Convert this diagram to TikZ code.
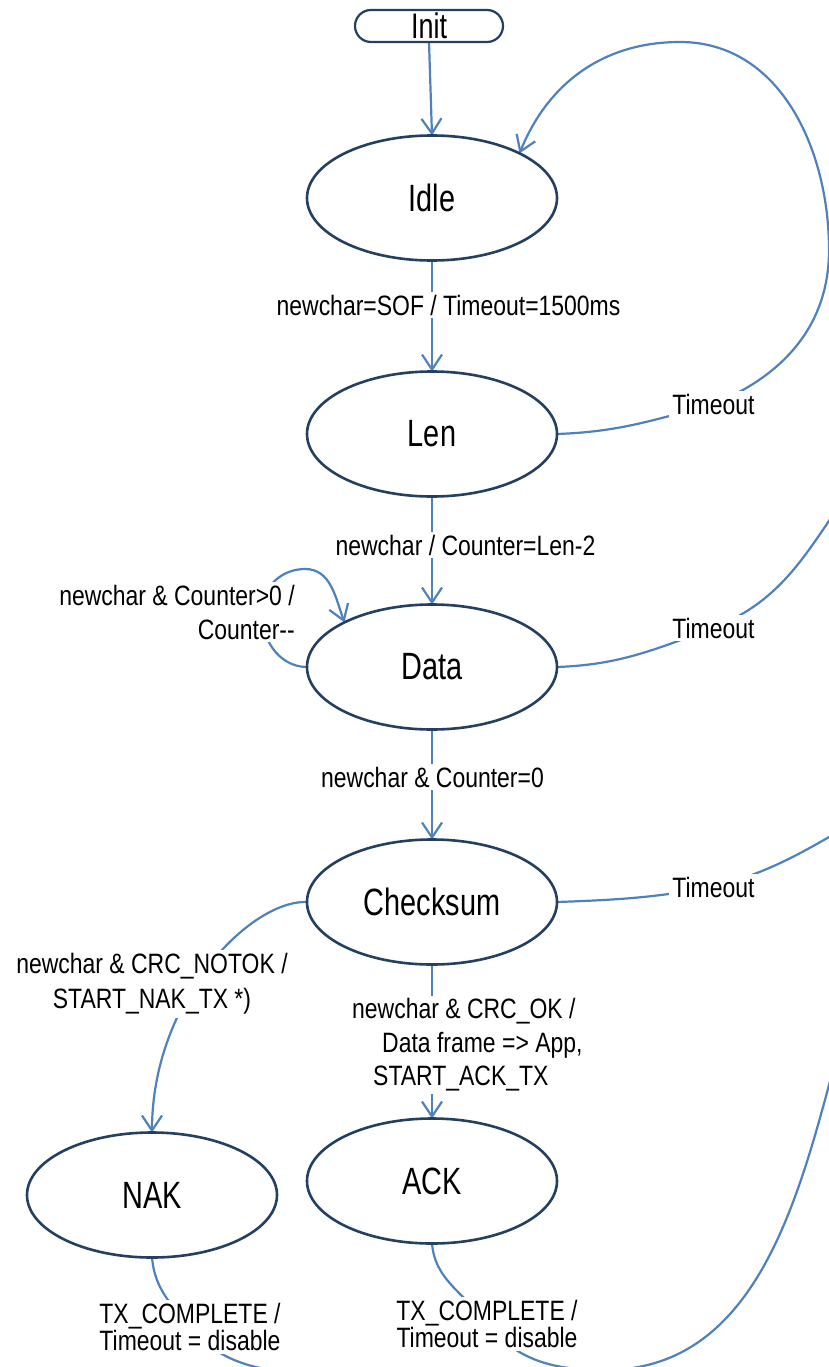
\documentclass[tikz,border=0pt]{standalone}
\usepackage{fontspec}
\usetikzlibrary{arrows.meta,shapes.geometric,shapes.misc,backgrounds}
\newfontfamily\statefont{Liberation Sans}[FakeStretch=0.76]
\newfontfamily\labelfont{Liberation Sans}[FakeStretch=0.82]
\definecolor{stateline}{RGB}{36,63,96}
\definecolor{edgeblue}{RGB}{79,129,189}
\tikzset{
  state/.style={ellipse, draw=stateline, line width=2.6pt, minimum width=250pt,
    minimum height=125pt, inner sep=0pt, outer sep=0pt,
    font=\statefont\fontsize{38}{44}\selectfont},
  initbox/.style={rounded rectangle, draw=stateline, line width=2.2pt,
    minimum width=148pt, minimum height=32pt, inner sep=0pt, outer sep=0pt,
    text height=25pt, text depth=0pt, font=\statefont\fontsize{35.5}{40}\selectfont},
  trans/.style={draw=edgeblue, line width=2.2pt, -{Straight Barb[length=15pt,width=20pt]}},
  link/.style={draw=edgeblue, line width=2.2pt},
  lbl/.style={fill=white, inner sep=3pt, font=\labelfont\fontsize{28}{34}\selectfont},
}
\begin{document}
\begin{tikzpicture}[x=1pt,y=1pt]
\useasboundingbox (0,0) rectangle (829,-1367);

% states
\node[initbox] (init) at (429,-26) {Init};
\node[state] (idle) at (432,-198) {Idle};
\node[state] (len)  at (432,-434) {Len};
\node[state] (data) at (432,-667) {Data};
\node[state] (chk)  at (432,-902) {Checksum};
\node[state] (nak)  at (152,-1195) {NAK};
\node[state] (ack)  at (432,-1181) {ACK};

% transition labels
\node[lbl] (lsof) at (448.5,-305) {newchar=SOF / Timeout=1500ms};
\node[lbl] (llen) at (465.5,-545) {newchar / Counter=Len-2};
\node[lbl] (lzero) at (432.5,-777) {newchar \& Counter=0};
\node[lbl, align=right, anchor=east] (lloop) at (298,-612)
  {newchar \& Counter>0 /\\Counter-\kern0pt-};
\node[lbl, align=center, font=\labelfont\fontsize{28}{35}\selectfont] (lnok) at (152,-984)
  {newchar \& CRC\_NOTOK /\\START\_NAK\_TX *)};
\node[lbl, align=left, anchor=west, font=\labelfont\fontsize{28}{33.5}\selectfont] (lok) at (349,-1045)
  {newchar \& CRC\_OK /\\\hspace*{30pt}Data frame => App,\\\hspace*{21pt}START\_ACK\_TX};
\node[lbl, align=center, font=\labelfont\fontsize{28}{27.5}\selectfont] (txN) at (190,-1327)
  {TX\_COMPLETE /\\Timeout = disable};
\node[lbl, align=center, font=\labelfont\fontsize{28}{27.5}\selectfont] (txA) at (487,-1324)
  {TX\_COMPLETE /\\Timeout = disable};
\node[lbl] (tmoA) at (713.5,-404) {Timeout};
\node[lbl] (tmoB) at (713.5,-628) {Timeout};
\node[lbl] (tmoC) at (713.5,-887) {Timeout};

% bends and ends of the return curves
\coordinate (rimA) at (829,-250);
\coordinate (topA) at (680,-42);
\coordinate (exitB) at (850,-490);
\coordinate (exitC) at (855,-822);
\coordinate (loopL) at (262,-608);
\coordinate (loopT) at (305,-569);
\coordinate (exitN) at (340,-1380);
\coordinate (dipA) at (605,-1370);
\coordinate (rimD) at (829,-1085);
\coordinate (exitD) at (850,-960);

\begin{scope}[on background layer]
  \clip (0,0) rectangle (829,-1367);
  \fill[white] (0,0) rectangle (829,-1367);
  % main chain
  \draw[trans] (init.south) -- (idle.north);
  \draw[trans] (idle.south) -- (len.north);
  \draw[trans] (len.south) -- (data.north);
  \draw[trans] (data.south) -- (chk.north);
  \draw[trans] (chk.south) -- (ack.north);
  % timeouts back to Idle
  \draw[trans] (len.east) to[out=2,in=195] (tmoA.center) to[out=22,in=-90] (rimA)
    to[out=90,in=0] (topA) to[out=180,in=68] (idle.27);
  \draw[link] (data.east) to[out=2,in=200] (tmoB.center) to[out=22,in=-125] (exitB);
  \draw[link] (chk.east) to[out=2,in=190] (tmoC.center) to[out=15,in=-150] (exitC);
  % counting loop on Data
  \draw[trans] (data.west) to[out=180,in=-95] (loopL) to[out=85,in=180] (loopT)
    to[out=0,in=110] (data.153);
  % bad checksum
  \draw[trans] (chk.west) .. controls (250,-900) and (152,-1000) .. (nak.north);
  % transmission complete
  \draw[link] (nak.south) to[out=-85,in=130] (txN.center) to[out=-50,in=170] (exitN);
  \draw[link] (ack.south) to[out=-85,in=125] (txA.center) to[out=-50,in=180] (dipA)
    to[out=0,in=-105] (rimD) to[out=75,in=-95] (exitD);
\end{scope}
\end{tikzpicture}
\end{document}
